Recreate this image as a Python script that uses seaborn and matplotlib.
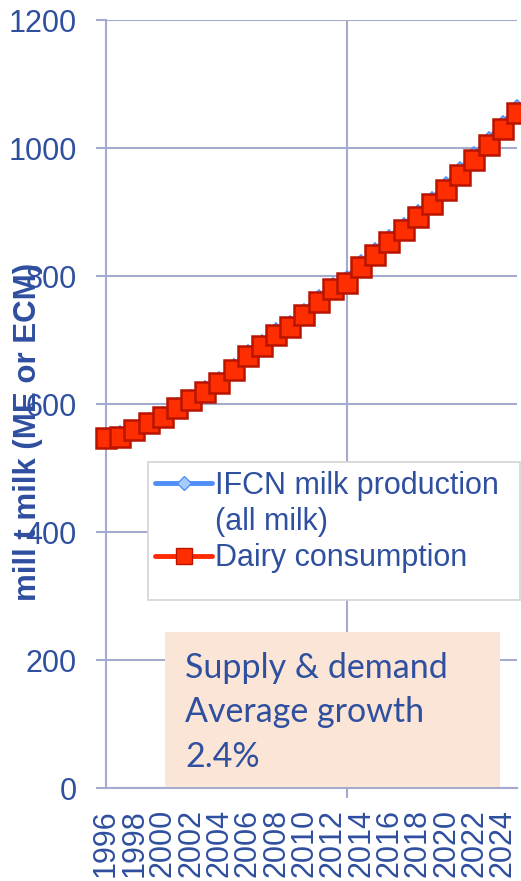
import numpy as np
import pandas as pd
import matplotlib
matplotlib.use("Agg")
import matplotlib.pyplot as plt
import matplotlib.patches as mpatches
from matplotlib.lines import Line2D
import seaborn as sns

# Values (mill t milk)
years = list(range(1996, 2026))
production = [551, 554, 563, 575, 585, 599, 611, 625, 639, 659,
              681, 697, 715, 727, 746, 767, 786, 797, 822, 841,
              861, 880, 900, 921, 943, 967, 990, 1014, 1039, 1064]
consumption = [547, 549, 559, 570, 580, 594, 606, 619, 633, 653,
               675, 690, 708, 720, 739, 760, 779, 789, 814, 833,
               853, 872, 892, 912, 934, 958, 981, 1005, 1030, 1055]
year_labels = [str(y) for y in range(1996, 2025, 2)]
y_ticks = [0, 200, 400, 600, 800, 1000, 1200]
prod_label = "IFCN milk production"
prod_label2 = "(all milk)"
cons_label = "Dairy consumption"
box_lines = ["Supply & demand", "Average growth", "2.4%"]
y_title = "mill t milk (ME or ECM)"

blue_text = "#2F4F9F"
grid_col = "#A4ABCF"

sns.set_style("white")
plt.rcParams["font.family"] = ["Liberation Sans", "DejaVu Sans"]

W, H = 521, 881
fig = plt.figure(figsize=(W / 100, H / 100), dpi=100)
ax = fig.add_axes([106 / W, 93 / H, 411 / W, 768 / H])

df = pd.DataFrame({"year": years, "production": production, "consumption": consumption})

sns.lineplot(data=df, x="year", y="production", ax=ax, color="#4F8DF7", linewidth=3.5,
             marker="D", markersize=7.5, markerfacecolor="#A9CCFF", markeredgecolor="#4F8DF7",
             markeredgewidth=1.2, clip_on=False, zorder=3)
sns.lineplot(data=df, x="year", y="consumption", ax=ax, color="#FF2A00", linewidth=3.5,
             marker="s", markersize=14.5, markerfacecolor="#FF2E00", markeredgecolor="#B81400",
             markeredgewidth=1.8, clip_on=False, zorder=4)

ax.set_xlim(1996, 2025)
ax.set_ylim(0, 1200)
ax.set_xlabel("")
ax.set_ylabel("")

ax.set_yticks(y_ticks)
ax.set_xticks(range(1996, 2025, 2))
ax.set_xticklabels(year_labels)
ax.set_xticks([1996, 2013], minor=True)

ax.tick_params(axis="y", length=7, width=1.5, color=grid_col, pad=14,
               labelsize=22, labelcolor=blue_text, left=True)
ax.tick_params(axis="x", which="major", length=0, pad=15, labelsize=22,
               labelcolor=blue_text, labelrotation=90)
ax.tick_params(axis="x", which="minor", length=7, width=1.5, color=grid_col,
               direction="out", bottom=True)

ax.yaxis.grid(True, color=grid_col, linewidth=1.5)
ax.xaxis.grid(True, which="minor", color=grid_col, linewidth=1.5)
ax.xaxis.grid(False, which="major")
ax.set_axisbelow(True)

for side in ["top", "right"]:
    ax.spines[side].set_visible(False)
for side in ["left", "bottom"]:
    ax.spines[side].set_color(grid_col)
    ax.spines[side].set_linewidth(1.5)

# legend frame
ax.add_patch(mpatches.Rectangle((148 / W, 1 - 600 / H), 372 / W, 138 / H,
                                transform=fig.transFigure, facecolor="white",
                                edgecolor="#D4D4D4", linewidth=1.2, clip_on=False, zorder=6))

h_prod = Line2D([], [], color="#4F8DF7", linewidth=3.5, marker="D", markersize=7.5,
                markerfacecolor="#A9CCFF", markeredgecolor="#4F8DF7")
h_blank = Line2D([], [], linestyle="none")
h_cons = Line2D([], [], color="#FF2A00", linewidth=3.5, marker="s", markersize=12,
                markerfacecolor="#FF2E00", markeredgecolor="#B81400")
leg = ax.legend([h_prod, h_blank, h_cons], [prod_label, prod_label2, cons_label],
                loc="upper left", bbox_to_anchor=(155 / W, 1 - 471 / H),
                bbox_transform=fig.transFigure, frameon=False, fontsize=22,
                borderpad=0, borderaxespad=0, handlelength=1.87, handletextpad=0.1,
                labelspacing=0.2, numpoints=1)
leg.set_zorder(7)
for t in leg.get_texts():
    t.set_color(blue_text)

# annotation box
ax.add_patch(mpatches.Rectangle((165 / W, 1 - 787 / H), 335 / W, 155 / H,
                                transform=fig.transFigure, facecolor="#FBE5D6",
                                edgecolor="none", clip_on=False, zorder=6))
for i, line in enumerate(box_lines):
    fig.text(185 / W, 1 - (678 + 44.5 * i) / H, line, fontsize=24.5, color=blue_text,
             family=["Lato", "DejaVu Sans"], ha="left", va="baseline", zorder=8)

fig.text(28 / W, 1 - 432 / H, y_title, rotation=90, fontsize=22.5, fontweight="bold",
         color=blue_text, ha="center", va="center")

fig.savefig("out.png", dpi=100)
